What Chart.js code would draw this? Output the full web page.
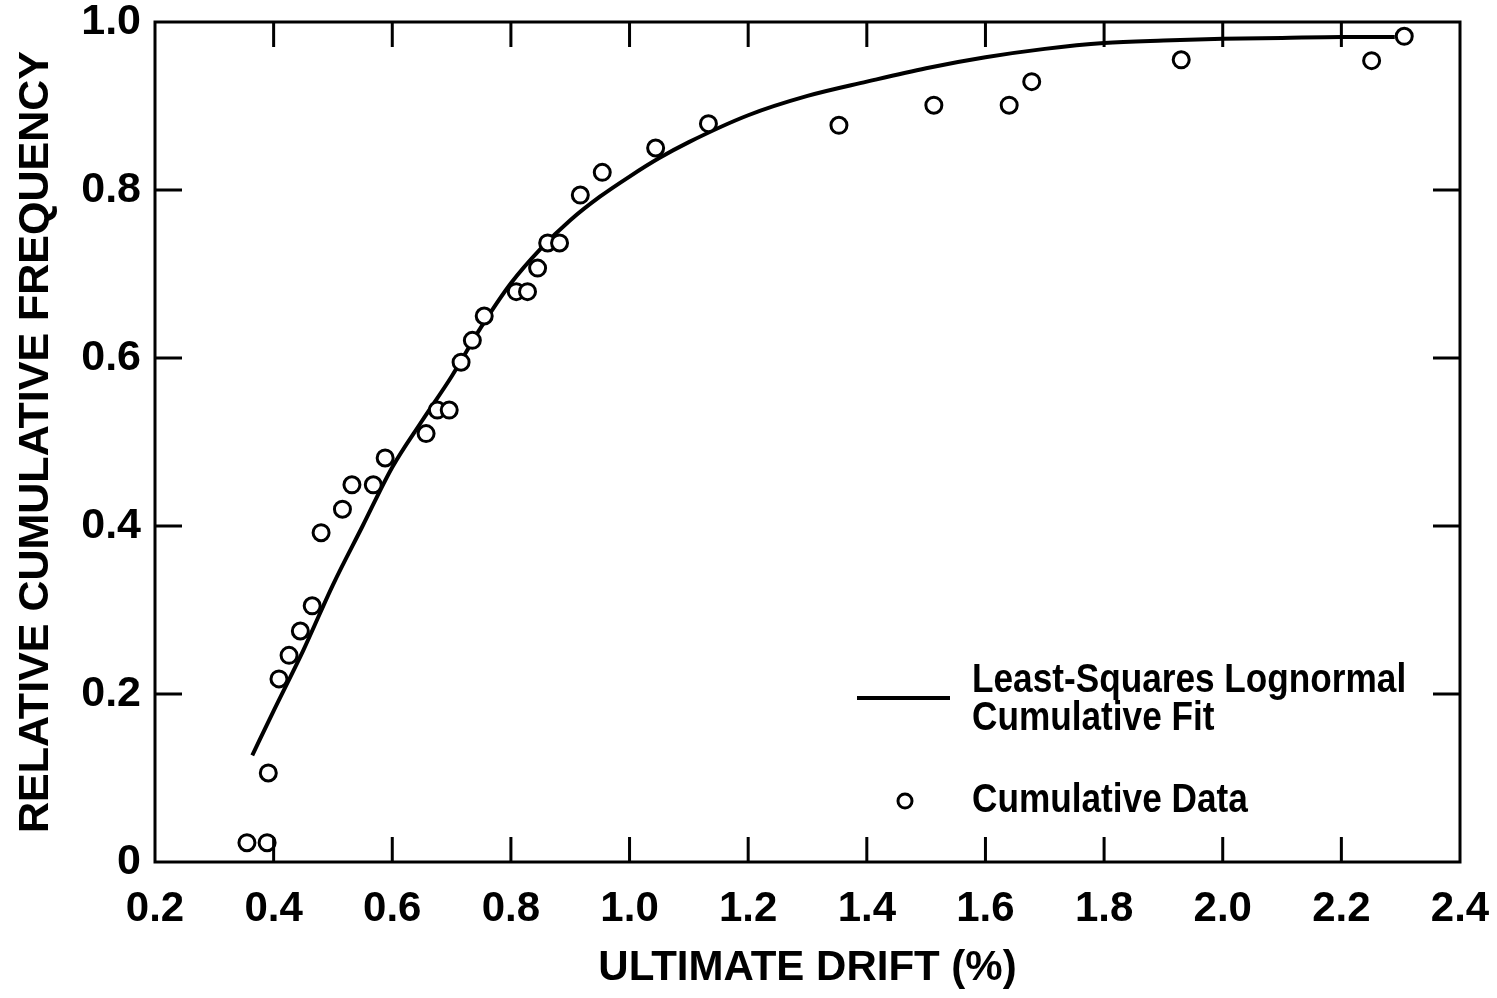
<!DOCTYPE html>
<html>
<head>
<meta charset="utf-8">
<script src="https://cdn.jsdelivr.net/npm/chart.js@4/dist/chart.umd.min.js"></script>
<style>
  html, body { margin: 0; padding: 0; background: #fff; }
  #wrap { width: 1497px; height: 998px; }
</style>
</head>
<body>
<div id="wrap"><canvas id="grafico"></canvas></div>
<script>
// cumulative data
const dataX = [0.355, 0.389, 0.391, 0.409, 0.426, 0.445, 0.465, 0.480, 0.516, 0.532, 0.568, 0.588,
  0.657, 0.676, 0.696, 0.716, 0.735, 0.755, 0.809, 0.828, 0.845, 0.862, 0.882, 0.917, 0.954,
  1.044, 1.133, 1.353, 1.513, 1.640, 1.678, 1.930, 2.251, 2.306]
const dataY = [0.023, 0.023, 0.106, 0.218, 0.246, 0.275, 0.305, 0.392, 0.420, 0.449, 0.449, 0.481,
  0.510, 0.538, 0.538, 0.595, 0.621, 0.650, 0.679, 0.679, 0.707, 0.737, 0.737, 0.794, 0.821,
  0.850, 0.879, 0.877, 0.901, 0.901, 0.929, 0.955, 0.954, 0.983]

// least-squares lognormal fit curve
const fitX = [0.364, 0.40, 0.45, 0.50, 0.55, 0.60, 0.65, 0.70, 0.75, 0.80, 0.85, 0.90, 0.95, 1.00,
  1.05, 1.10, 1.20, 1.30, 1.40, 1.50, 1.60, 1.70, 1.80, 1.90, 2.00, 2.10, 2.20, 2.29]
const fitY = [0.127, 0.180, 0.252, 0.330, 0.400, 0.470, 0.525, 0.578, 0.637, 0.689, 0.730, 0.764,
  0.792, 0.816, 0.838, 0.857, 0.889, 0.912, 0.929, 0.945, 0.958, 0.968, 0.975, 0.978, 0.980,
  0.981, 0.982, 0.982]

const xTicks = [0.2, 0.4, 0.6, 0.8, 1.0, 1.2, 1.4, 1.6, 1.8, 2.0, 2.2, 2.4]
const yTicks = [0, 0.2, 0.4, 0.6, 0.8, 1.0]

const legendFit = ['Least-Squares Lognormal', 'Cumulative Fit']
const legendData = 'Cumulative Data'

const fonte = '"Liberation Sans", Arial, sans-serif'

const pontos = dataX.map((x, i) => ({ x: x, y: dataY[i] }))
const curva = fitX.map((x, i) => ({ x: x, y: fitY[i] }))

// condensed text: the legend face is narrower than the installed fonts
function textoEstreito(ctx, txt, x, y, fator) {
  ctx.save()
  ctx.translate(x, y)
  ctx.scale(fator, 1)
  ctx.fillText(txt, 0, 0)
  ctx.restore()
}

// frame, inward ticks and the legend
const moldura = {
  id: 'moldura',
  afterDraw(chart) {
    const ctx = chart.ctx
    const a = chart.chartArea
    const sx = chart.scales.x, sy = chart.scales.y
    ctx.save()
    ctx.strokeStyle = '#000'
    ctx.lineWidth = 3
    ctx.strokeRect(a.left, a.top, a.right - a.left, a.bottom - a.top)
    ctx.beginPath()
    xTicks.slice(1, -1).forEach(v => {
      const px = sx.getPixelForValue(v)
      ctx.moveTo(px, a.bottom); ctx.lineTo(px, a.bottom - 25)
      ctx.moveTo(px, a.top); ctx.lineTo(px, a.top + 25)
    })
    yTicks.slice(1, -1).forEach(v => {
      const py = sy.getPixelForValue(v)
      ctx.moveTo(a.left, py); ctx.lineTo(a.left + 27, py)
      ctx.moveTo(a.right, py); ctx.lineTo(a.right - 27, py)
    })
    ctx.stroke()

    // legend
    ctx.lineWidth = 4
    ctx.beginPath()
    ctx.moveTo(857, 698); ctx.lineTo(950, 698)
    ctx.stroke()
    ctx.lineWidth = 3
    ctx.beginPath()
    ctx.arc(905, 801, 7, 0, Math.PI * 2)
    ctx.stroke()
    ctx.fillStyle = '#000'
    ctx.font = 'bold 40px ' + fonte
    ctx.textBaseline = 'middle'
    ctx.textAlign = 'left'
    textoEstreito(ctx, legendFit[0], 972, 681, 0.88)
    textoEstreito(ctx, legendFit[1], 972, 719, 0.88)
    textoEstreito(ctx, legendData, 972, 801, 0.88)
    ctx.restore()
  }
}

new Chart(document.getElementById('grafico'), {
  type: 'scatter',
  data: {
    datasets: [{
      label: legendData,
      data: pontos,
      showLine: false,
      pointRadius: 8,
      pointBorderWidth: 3,
      pointBorderColor: '#000',
      pointBackgroundColor: '#fff'
    }, {
      label: legendFit.join(' '),
      data: curva,
      showLine: true,
      pointRadius: 0,
      borderColor: '#000',
      borderWidth: 4,
      cubicInterpolationMode: 'monotone',
      fill: false
    }]
  },
  options: {
    responsive: true,
    maintainAspectRatio: false,
    animation: false,
    devicePixelRatio: 1,
    layout: { padding: { left: 0, top: 22, right: 37, bottom: 0 } },
    plugins: {
      legend: { display: false },
      tooltip: { enabled: false }
    },
    scales: {
      x: {
        type: 'linear',
        min: 0.2,
        max: 2.4,
        afterBuildTicks: s => { s.ticks = xTicks.map(v => ({ value: v })) },
        afterFit: s => { s.height = 136; s.paddingLeft = 0; s.paddingRight = 0 },
        grid: { display: false, drawTicks: false },
        border: { display: false },
        ticks: {
          color: '#000',
          padding: 22,
          maxRotation: 0,
          font: { family: fonte, size: 42, weight: 'bold' },
          callback: v => Number(v).toFixed(1)
        },
        title: {
          display: true,
          text: 'ULTIMATE DRIFT (%)',
          color: '#000',
          padding: { top: 0, bottom: 4 },
          font: { family: fonte, size: 42, weight: 'bold' }
        }
      },
      y: {
        type: 'linear',
        min: 0,
        max: 1,
        afterBuildTicks: s => { s.ticks = yTicks.map(v => ({ value: v })) },
        afterFit: s => { s.width = 155; s.paddingTop = 0; s.paddingBottom = 0 },
        grid: { display: false, drawTicks: false },
        border: { display: false },
        ticks: {
          color: '#000',
          padding: 14,
          font: { family: fonte, size: 43, weight: 'bold' },
          callback: v => v === 0 ? '0' : Number(v).toFixed(1)
        },
        title: {
          display: true,
          text: 'RELATIVE CUMULATIVE FREQUENCY',
          color: '#000',
          padding: { top: 10, bottom: 0 },
          font: { family: fonte, size: 43, weight: 'bold' }
        }
      }
    }
  },
  plugins: [moldura]
})
</script>
</body>
</html>
